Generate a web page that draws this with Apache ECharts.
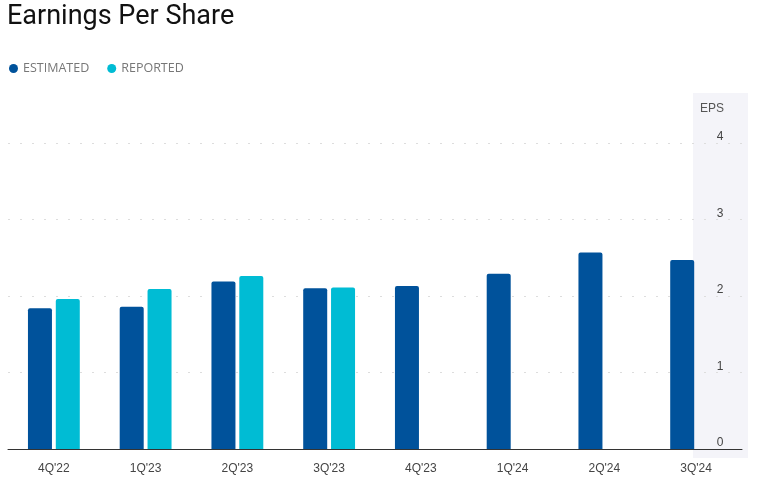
<!DOCTYPE html>
<html>
<head>
<meta charset="utf-8">
<script src="https://cdn.jsdelivr.net/npm/echarts@6/dist/echarts.min.js"></script>
<style>
html,body{margin:0;padding:0;background:#fff;}
#chart{width:760px;height:481px;}
</style>
</head>
<body>
<div id="chart"></div>
<script>
const categories = ["4Q'22","1Q'23","2Q'23","3Q'23","4Q'23","1Q'24","2Q'24","3Q'24"];
const estimated = [1.84, 1.86, 2.19, 2.10, 2.13, 2.29, 2.57, 2.47];
const reported = [1.96, 2.09, 2.26, 2.11, null, null, null, null];
const yTicks = [0, 1, 2, 3, 4];

const chart = echarts.init(document.getElementById('chart'), null, {renderer: 'canvas'});
chart.setOption({
  animation: false,
  backgroundColor: '#fff',
  title: {
    text: 'Earnings Per Share',
    left: 2,
    top: -1,
    textStyle: {fontFamily: 'Roboto', fontSize: 27, fontWeight: 'normal', color: '#111'}
  },
  legend: {
    left: 4,
    top: 57,
    icon: 'circle',
    itemWidth: 9,
    itemHeight: 9,
    itemGap: 18,
    textStyle: {fontFamily: 'Open Sans', fontSize: 12.5, color: '#777'},
    data: ['ESTIMATED', 'REPORTED']
  },
  graphic: [{
    type: 'rect',
    z: -10,
    shape: {x: 693, y: 93, width: 55, height: 365},
    style: {fill: '#f4f4f9'}
  }],
  grid: {left: 8, right: 18, top: 143, bottom: 32, containLabel: false},
  xAxis: {
    type: 'category',
    data: categories,
    axisLine: {lineStyle: {color: '#333', width: 1}},
    axisTick: {show: false},
    axisLabel: {fontFamily: 'Arial, Liberation Sans', fontSize: 12, color: '#444', margin: 14}
  },
  yAxis: {
    type: 'value',
    position: 'right',
    min: 0,
    max: 4,
    interval: 1,
    name: 'EPS',
    nameLocation: 'end',
    nameGap: 28,
    nameTextStyle: {fontFamily: 'Arial, Liberation Sans', fontSize: 12, color: '#555', align: 'right', padding: [0, 18, 0, 0]},
    axisLine: {show: false},
    axisTick: {show: false},
    axisLabel: {
      fontFamily: 'Arial, Liberation Sans', fontSize: 12, color: '#444',
      inside: false, margin: -22, align: 'center', verticalAlign: 'bottom',
      formatter: function (v) { return yTicks.indexOf(v) >= 0 ? String(v) : ''; }
    },
    splitLine: {lineStyle: {color: '#ddd', type: [2, 10], width: 1}}
  },
  series: [
    {
      name: 'ESTIMATED',
      type: 'bar',
      data: estimated,
      barWidth: 24,
      barGap: '16%',
      itemStyle: {color: '#00529b', borderRadius: [2, 2, 0, 0]}
    },
    {
      name: 'REPORTED',
      type: 'bar',
      data: reported,
      barWidth: 24,
      itemStyle: {color: '#00bcd4', borderRadius: [2, 2, 0, 0]}
    }
  ]
});
</script>
</body>
</html>
